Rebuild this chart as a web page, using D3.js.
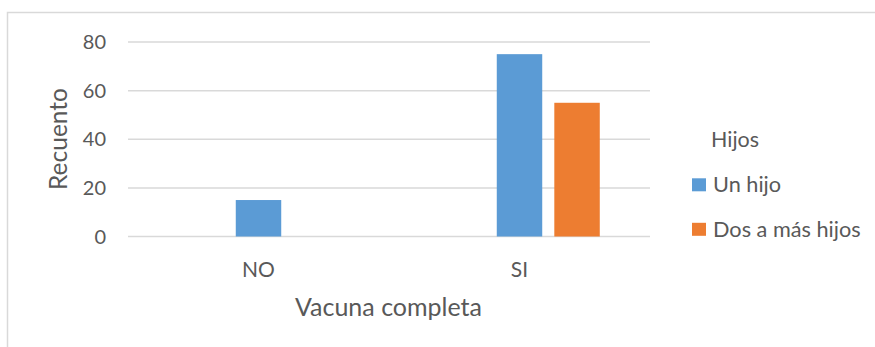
<!DOCTYPE html>
<html>
<head>
<meta charset="utf-8">
<script src="https://cdn.jsdelivr.net/npm/d3@7"></script>
<style>
  html, body { margin: 0; padding: 0; background: #fff; }
  svg { display: block; font-family: Lato, "Open Sans", sans-serif; }
</style>
</head>
<body>
<svg id="chart" width="875" height="347"></svg>
<script>
// Recuento de vacunación completa según número de hijos
const categories = ["NO", "SI"];
const series = ["Un hijo", "Dos a más hijos"];
const unHijo = [15, 75];
const dosAMasHijos = [0, 55];
const yTicks = [0, 20, 40, 60, 80];
const colors = ["#5B9BD5", "#ED7D31"];

const rows = categories.map((c, i) => ({
  category: c,
  values: [
    { key: series[0], value: unHijo[i] },
    { key: series[1], value: dosAMasHijos[i] }
  ]
}));

const svg = d3.select("#chart");
const W = 875, H = 347;
const textColor = "#595959";
const gridColor = "#D9D9D9";

// outer chart border
svg.append("rect")
  .attr("x", 7.5).attr("y", 12.5)
  .attr("width", W + 10).attr("height", H + 10)
  .attr("fill", "none").attr("stroke", gridColor).attr("stroke-width", 1.5);

const plot = { left: 128, right: 650, top: 42, bottom: 236.5 };

const y = d3.scaleLinear().domain([0, 80]).range([plot.bottom, plot.top]);
const x0 = d3.scaleBand().domain(categories).range([plot.left, plot.right]);
const x1 = d3.scaleBand().domain(series).range([0, 103]).paddingInner(0.21);

// gridlines
svg.append("g").selectAll("line").data(yTicks).join("line")
  .attr("x1", plot.left).attr("x2", plot.right)
  .attr("y1", d => y(d)).attr("y2", d => y(d))
  .attr("stroke", gridColor).attr("stroke-width", 1.5);

// y tick labels
svg.append("g").selectAll("text").data(yTicks).join("text")
  .attr("x", 106).attr("y", d => y(d))
  .attr("dy", "0.35em")
  .attr("text-anchor", "end")
  .attr("font-size", 20)
  .attr("fill", textColor)
  .text(d => d);

// bars: first series centred on the category, second to its right
const groups = svg.append("g").selectAll("g").data(rows).join("g")
  .attr("transform", d => `translate(${x0(d.category) + x0.bandwidth() / 2 - x1.bandwidth() / 2},0)`);

groups.selectAll("rect").data(d => d.values.filter(v => v.value > 0)).join("rect")
  .attr("x", d => x1(d.key))
  .attr("width", x1.bandwidth())
  .attr("y", d => y(d.value))
  .attr("height", d => y(0) - y(d.value))
  .attr("fill", d => colors[series.indexOf(d.key)]);

// category labels
svg.append("g").selectAll("text").data(categories).join("text")
  .attr("x", d => x0(d) + x0.bandwidth() / 2)
  .attr("y", 277)
  .attr("text-anchor", "middle")
  .attr("font-size", 21)
  .attr("fill", textColor)
  .text(d => d);

// axis titles
svg.append("text")
  .attr("x", 388.5)
  .attr("y", 316)
  .attr("text-anchor", "middle")
  .attr("font-size", 25)
  .attr("fill", textColor)
  .text("Vacuna completa");

svg.append("text")
  .attr("transform", "translate(67,139) rotate(-90)")
  .attr("text-anchor", "middle")
  .attr("font-size", 24.5)
  .attr("fill", textColor)
  .text("Recuento");

// legend
const legend = svg.append("g");
legend.append("text")
  .attr("x", 711).attr("y", 147)
  .attr("font-size", 21.5)
  .attr("fill", textColor)
  .text("Hijos");

const items = legend.selectAll("g.item").data(series).join("g")
  .attr("class", "item")
  .attr("transform", (d, i) => `translate(692,${178.3 + i * 44.5})`);
items.append("rect")
  .attr("width", 14).attr("height", 13)
  .attr("fill", (d, i) => colors[i]);
items.append("text")
  .attr("x", 21).attr("y", 14)
  .attr("font-size", 21.7)
  .attr("fill", textColor)
  .text(d => d);
</script>
</body>
</html>
